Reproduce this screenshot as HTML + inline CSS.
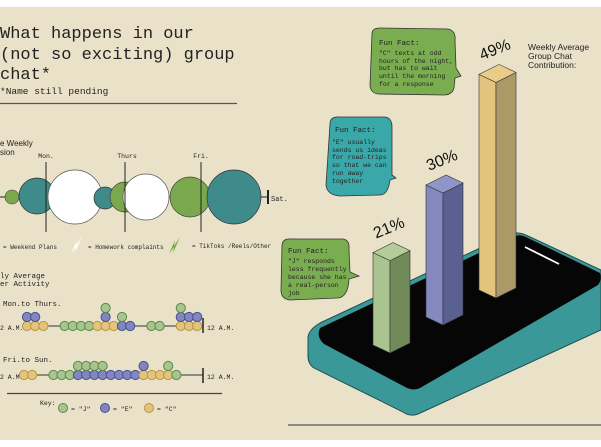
<!DOCTYPE html>
<html><head><meta charset="utf-8"><style>
html,body{margin:0;padding:0;background:#fff}
svg{display:block}
.m{font-family:"Liberation Mono",monospace;fill:#222}
.s{font-family:"Liberation Sans",sans-serif;fill:#222}
</style></head><body>
<svg width="601" height="447" viewBox="0 0 601 447">
<rect x="0" y="7" width="601" height="433" fill="#e9e2c8"/>
<g>
<text class="m" x="0" y="38" font-size="17">What happens in our</text>
<text class="m" x="0" y="59" font-size="17">(not so exciting) group</text>
<text class="m" x="0" y="79" font-size="17">chat*</text>
<text class="m" x="0" y="94" font-size="9.5">*Name still pending</text>
<line x1="0" y1="103.5" x2="237" y2="103.5" stroke="#555" stroke-width="1.2"/>
</g>
<g>
<text class="s" x="0" y="146" font-size="8">e Weekly</text>
<text class="s" x="0" y="155" font-size="8">sion</text>
<line x1="0" y1="197" x2="268" y2="197" stroke="#222" stroke-width="1"/>
<line x1="268" y1="190" x2="268" y2="204" stroke="#222" stroke-width="2"/>
<text class="m" x="271" y="201" font-size="7">Sat.</text>
<circle cx="12" cy="197" r="7" fill="#7aa84c" stroke="#444" stroke-width=".6"/>
<circle cx="37" cy="196" r="18" fill="#3f8a8a" stroke="#333" stroke-width=".7"/>
<circle cx="75" cy="197" r="27" fill="#fff" stroke="#555" stroke-width=".7"/>
<circle cx="105" cy="198" r="11" fill="#3f8a8a" stroke="#333" stroke-width=".7"/>
<circle cx="125" cy="197" r="15" fill="#7aa84c" stroke="#444" stroke-width=".7"/>
<circle cx="146" cy="197" r="23" fill="#fff" stroke="#555" stroke-width=".7"/>
<circle cx="190" cy="197" r="20" fill="#7aa84c" stroke="#444" stroke-width=".7"/>
<circle cx="234" cy="197" r="27" fill="#3f8a8a" stroke="#333" stroke-width=".7"/>
<line x1="46" y1="162" x2="46" y2="232" stroke="#222"/>
<line x1="125" y1="162" x2="125" y2="232" stroke="#222"/>
<line x1="201" y1="162" x2="201" y2="232" stroke="#222"/>
<text class="m" x="46" y="158" font-size="6.5" text-anchor="middle">Mon.</text>
<text class="m" x="127" y="158" font-size="6.5" text-anchor="middle">Thurs</text>
<text class="m" x="201" y="158" font-size="6.5" text-anchor="middle">Fri.</text>
</g>
<g>
<text class="m" x="3" y="249" font-size="6">= Weekend Plans</text>
<path d="M71 254 L77 240 L76 246 L82 237 L75 253 L76 247 Z" fill="#fff"/>
<text class="m" x="88" y="249" font-size="6">= Homework complaints</text>
<path d="M169 254 L175 240 L174 246 L180 237 L173 253 L174 247 Z" fill="#7aa84c"/>
<text class="m" x="192" y="248" font-size="6">= TikToks /Reels/Other</text>
</g>
<g id="dots">
<text class="m" x="0" y="278" font-size="7.5">ly Average</text>
<text class="m" x="0" y="286" font-size="7.5">er Activity</text>
<text class="m" x="3" y="306" font-size="7.5">Mon.to Thurs.</text>
<text class="m" x="3" y="362" font-size="7.5">Fri.to Sun.</text>
<line x1="22" y1="326" x2="203" y2="326" stroke="#333"/>
<line x1="203" y1="318" x2="203" y2="333" stroke="#222" stroke-width="1.5"/>
<line x1="22" y1="375" x2="203" y2="375" stroke="#333"/>
<line x1="203" y1="368" x2="203" y2="383" stroke="#222" stroke-width="1.5"/>
<text class="m" x="0" y="330" font-size="6.5">2 A.M.</text>
<text class="m" x="207" y="330" font-size="6.5">12 A.M.</text>
<text class="m" x="0" y="379" font-size="6.5">2 A.M.</text>
<text class="m" x="207" y="379" font-size="6.5">12 A.M.</text>
<line x1="7" y1="393.5" x2="222" y2="393.5" stroke="#444" stroke-width="1.2"/>
<text class="m" x="40" y="405" font-size="6.5">Key:</text>
<circle cx="63" cy="408" r="4.5" fill="#a9c48e" stroke="#5a8a4a"/>
<text class="m" x="71" y="411" font-size="6.5">= "J"</text>
<circle cx="105" cy="408" r="4.5" fill="#8186c0" stroke="#4a4f90"/>
<text class="m" x="113" y="411" font-size="6.5">= "E"</text>
<circle cx="149" cy="408" r="4.5" fill="#e3c47f" stroke="#b8963e"/>
<text class="m" x="157" y="411" font-size="6.5">= "C"</text>
</g>
<g id="bubbles">
<path d="M372 34 Q372 28 380 28 L448 29 Q456 31 455 40 L456 68 L461 76 L455 78 L454 88 Q452 95 444 95 L378 94 Q371 93 370 86 Z" fill="#7aac50" stroke="#333" stroke-width=".8"/>
<text class="m" x="379" y="45" font-size="7.5">Fun Fact:</text>
<text class="m" font-size="6.5"><tspan x="379" y="55">"C" texts at odd</tspan><tspan x="379" y="63">hours of the night,</tspan><tspan x="379" y="70">but has to wait</tspan><tspan x="379" y="78">until the morning</tspan><tspan x="379" y="86">for a response</tspan></text>
<path d="M330 124 Q330 116 340 117 L385 117 Q392 118 392 127 L392 175 L396 178 L390 180 Q388 195 380 195 L340 196 Q327 195 326 185 Z" fill="#3aa8a8" stroke="#333" stroke-width=".8"/>
<text class="m" x="335" y="132" font-size="7.5">Fun Fact:</text>
<text class="m" font-size="6.5"><tspan x="332" y="144">"E" usually</tspan><tspan x="332" y="152">sends us ideas</tspan><tspan x="332" y="159">for road-trips</tspan><tspan x="332" y="167">so that we can</tspan><tspan x="332" y="175">run away</tspan><tspan x="332" y="183">together</tspan></text>
<path d="M282 246 Q282 238 292 239 L343 239 Q350 240 349 250 L350 272 L359 276 L349 279 Q348 297 338 298 L290 300 Q281 299 281 290 Z" fill="#7aac50" stroke="#333" stroke-width=".8"/>
<text class="m" x="288" y="253" font-size="7.5">Fun Fact:</text>
<text class="m" font-size="6.5"><tspan x="288" y="263">"J" responds</tspan><tspan x="288" y="271">less frequently</tspan><tspan x="288" y="279">because she has</tspan><tspan x="288" y="287">a real-person</tspan><tspan x="288" y="295">job</tspan></text>
</g>
<g>
<text class="s" x="528" y="50" font-size="8.5">Weekly Average</text>
<text class="s" x="528" y="59" font-size="8.5">Group Chat</text>
<text class="s" x="528" y="68" font-size="8.5">Contribution:</text>
<g>
<path d="M308 338 Q308 330 320 323 L510 234 Q518 231 528 236 L601 270 L601 330 L418 414 Q410 417 403 412 L314 368 Q308 364 308 356 Z" fill="#3a9898" stroke="#1f4f4f" stroke-width="1"/>
<path d="M320 328 L515 236 Q520 234 526 237 L600 273 Q602 280 598 285 L420 388 Q414 391 407 388 L324 344 Q316 337 320 328 Z" fill="#060606"/>
<line x1="525" y1="247" x2="559" y2="264" stroke="#fff" stroke-width="1.8"/>
</g>
<g id="bars"></g>
<line x1="288" y1="425" x2="601" y2="425" stroke="#555" stroke-width="1.2"/>
</g>
</svg>
<script>
// ---- contribution bars ----
const barMembers = ["J", "E", "C"];
const barValues = [21, 30, 49];
const barLabels = ["21%", "30%", "49%"];
// ---- activity dots: each column is a bottom-to-top stack, "-" is a line gap ----
const weekdayStacks = [["C","E"],["C","E"],["C"],"-",["J"],["J"],["J"],["J"],["C"],["C","E","J"],["C"],["E","J"],["E"],"-",["J"],["J"],"-",["C","E","J"],["C","E"],["C","E"]];
const weekendStacks = [["C"],["C"],"-",["J"],["J"],["J"],["E","J"],["E","J"],["E","J"],["E","J"],["E"],["E"],["E"],["E"],["C","E"],["C"],["C"],["C","J"],["J"]];

const NS = "http://www.w3.org/2000/svg";
function mk(tag, attrs, parent){const e=document.createElementNS(NS,tag);for(const k in attrs)e.setAttribute(k,attrs[k]);parent.appendChild(e);return e;}

const barFront = ["#a9c48e","#8489bf","#e2c47f"];
const barSide = ["#708a5a","#5a6090","#ad9868"];
const barTop = ["#b4cc98","#9095c8","#e8cc88"];
const baseX = [381, 434, 487];
const baseY = [353, 325, 298];
function yScale(v){ return v * 4.4; }
const bg = document.getElementById("bars");
barValues.forEach((v,i)=>{
  const h = yScale(v), mx = baseX[i]+9, by = baseY[i], fw=17, sw=20;
  const ty = by - h;
  const g = mk("g",{},bg);
  
  
  const front = mk("polygon",{points:`${mx-fw},${ty-8} ${mx},${ty} ${mx},${by} ${mx-fw},${by-8}`,fill:barFront[i],stroke:"#333","stroke-width":".6"},g);
  
  
  const side = mk("polygon",{points:`${mx},${ty} ${mx+sw},${ty-10} ${mx+sw},${by-10} ${mx},${by}`,fill:barSide[i],stroke:"#333","stroke-width":".6"},g);
  
  
  const top = mk("polygon",{points:`${mx-fw},${ty-8} ${mx},${ty} ${mx+sw},${ty-10} ${mx+3},${ty-18}`,fill:barTop[i],stroke:"#333","stroke-width":".6"},g);
  
  
  const t = mk("text",{x:mx-14,y:ty-22,"font-size":"16","font-family":"Liberation Sans, sans-serif",fill:"#111",transform:`rotate(-22 ${mx-14} ${ty-22})`},g);
  t.textContent = barLabels[i];
  
  
});

const dotFill = {J:"#a9c48e",E:"#8186c0",C:"#e3c47f"};
const dotStroke = {J:"#5a8a4a",E:"#4a4f90",C:"#b8963e"};
const dg = document.getElementById("dots");
function drawRow(stacks, x0, y0, rowName){
  let x = x0;
  stacks.forEach(col=>{
    if(col==="-"){ x += 13; return; }
    col.forEach((m,j)=>{
      const c = mk("circle",{cx:x,cy:y0-j*9,r:4.6,fill:dotFill[m],stroke:dotStroke[m],"stroke-width":"1"},dg);
      
      
    });
    x += 8.2;
  });
}
drawRow(weekdayStacks, 27, 326, "weekday");
drawRow(weekendStacks, 24, 375, "weekend");
</script>
</body></html>
